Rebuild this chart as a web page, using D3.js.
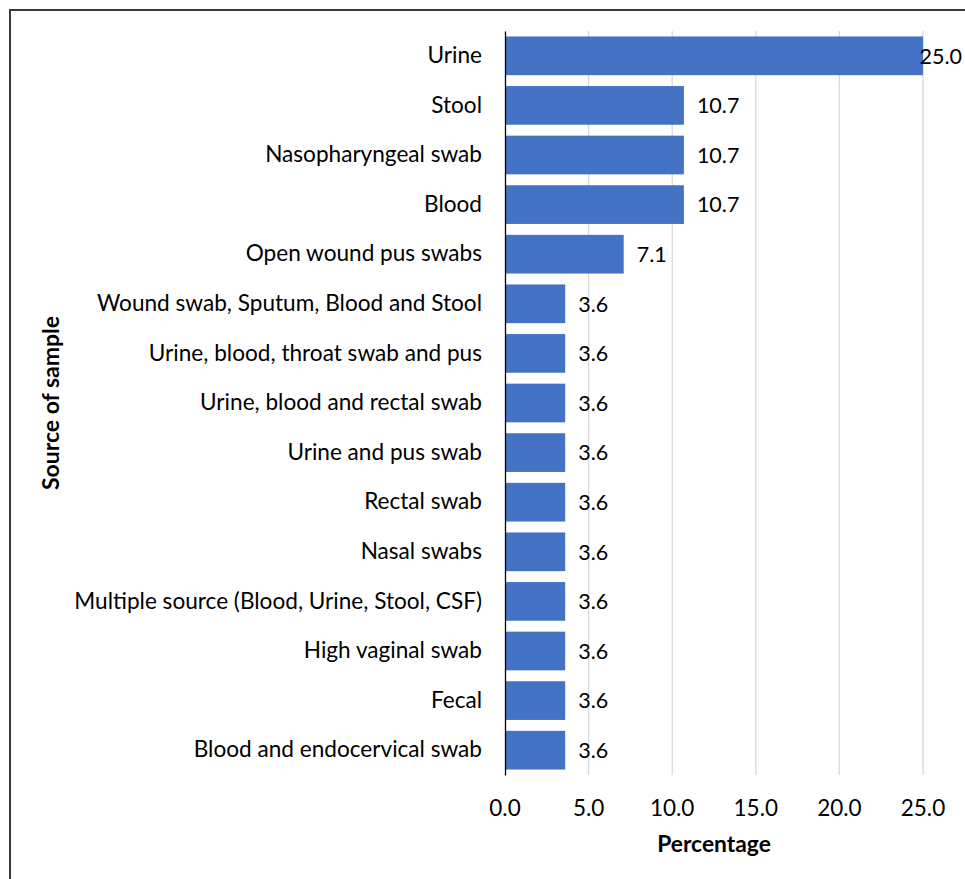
<!DOCTYPE html>
<html>
<head>
<meta charset="utf-8">
<script src="https://cdn.jsdelivr.net/npm/d3@7/dist/d3.min.js"></script>
<style>
  html, body { margin: 0; padding: 0; background: #fff; }
  svg { display: block; }
  text { font-family: Lato, "Liberation Sans", sans-serif; fill: #000; }
</style>
</head>
<body>
<script>
// Sample sources and their share of cases (%)
const categories = [
  "Urine", "Stool", "Nasopharyngeal swab", "Blood", "Open wound pus swabs",
  "Wound swab, Sputum, Blood and Stool", "Urine, blood, throat swab and pus",
  "Urine, blood and rectal swab", "Urine and pus swab", "Rectal swab",
  "Nasal swabs", "Multiple source (Blood, Urine, Stool, CSF)",
  "High vaginal swab", "Fecal", "Blood and endocervical swab"
];
const percentages = [25.0, 10.7, 10.7, 10.7, 7.1, 3.6, 3.6, 3.6, 3.6, 3.6, 3.6, 3.6, 3.6, 3.6, 3.6];
const xTicks = [0, 5, 10, 15, 20, 25];
const xTitle = "Percentage";
const yTitle = "Source of sample";

const W = 965, H = 879;
const svg = d3.select("body").append("svg").attr("width", W).attr("height", H);

// Outer frame (top and left edges visible)
svg.append("path")
  .attr("d", `M10,${H} L10,10 L${W},10`)
  .attr("fill", "none").attr("stroke", "#3a3a3a").attr("stroke-width", 2);

const plot = { left: 505, right: 923, top: 31, bottom: 775 };

const x = d3.scaleLinear().domain([0, 25]).range([plot.left, plot.right]);
const y = d3.scaleBand().domain(categories).range([plot.top, plot.bottom]).paddingInner(0.22).paddingOuter(0.11);

// Vertical gridlines
svg.append("g").selectAll("line").data(xTicks.filter(d => d > 0)).join("line")
  .attr("x1", d => x(d)).attr("x2", d => x(d))
  .attr("y1", plot.top).attr("y2", plot.bottom)
  .attr("stroke", "#d9d9d9").attr("stroke-width", 1.3);

// Bars
svg.append("g").selectAll("rect").data(categories).join("rect")
  .attr("x", x(0))
  .attr("y", d => y(d))
  .attr("width", (d, i) => x(percentages[i]) - x(0))
  .attr("height", y.bandwidth())
  .attr("fill", "#4472C4");

// Value labels
const labelG = svg.append("g");
categories.forEach((c, i) => {
  const t = labelG.append("text")
    .attr("x", x(percentages[i]) + 13)
    .attr("y", y(c) + y.bandwidth() / 2)
    .attr("dy", "0.36em")
    .attr("font-size", 21.5)
    .text(percentages[i].toFixed(1));
  const w = t.node().getComputedTextLength();
  if (x(percentages[i]) + 13 + w > W - 3) {
    t.attr("x", W - 3).attr("text-anchor", "end");
  }
});

// Category axis
const yAxis = svg.append("g").attr("transform", `translate(${plot.left},0)`)
  .call(d3.axisLeft(y).tickSize(0).tickPadding(23));
yAxis.select(".domain").attr("stroke", "#000").attr("stroke-width", 1.3);
yAxis.selectAll("text").attr("font-size", 22.6).attr("font-family", "Lato, 'Liberation Sans', sans-serif");

// Value axis labels
svg.append("g").selectAll("text").data(xTicks).join("text")
  .attr("x", d => x(d))
  .attr("y", 808)
  .attr("dy", "0.36em")
  .attr("text-anchor", "middle")
  .attr("font-size", 22.5)
  .text(d => d.toFixed(1));

// Axis titles
svg.append("text")
  .attr("x", 714).attr("y", 844).attr("dy", "0.36em")
  .attr("text-anchor", "middle").attr("font-size", 22.8).attr("font-weight", "bold")
  .text(xTitle);

svg.append("text")
  .attr("transform", `translate(51,403) rotate(-90)`)
  .attr("dy", "0.36em")
  .attr("text-anchor", "middle").attr("font-size", 23).attr("font-weight", "bold")
  .text(yTitle);
</script>
</body>
</html>
